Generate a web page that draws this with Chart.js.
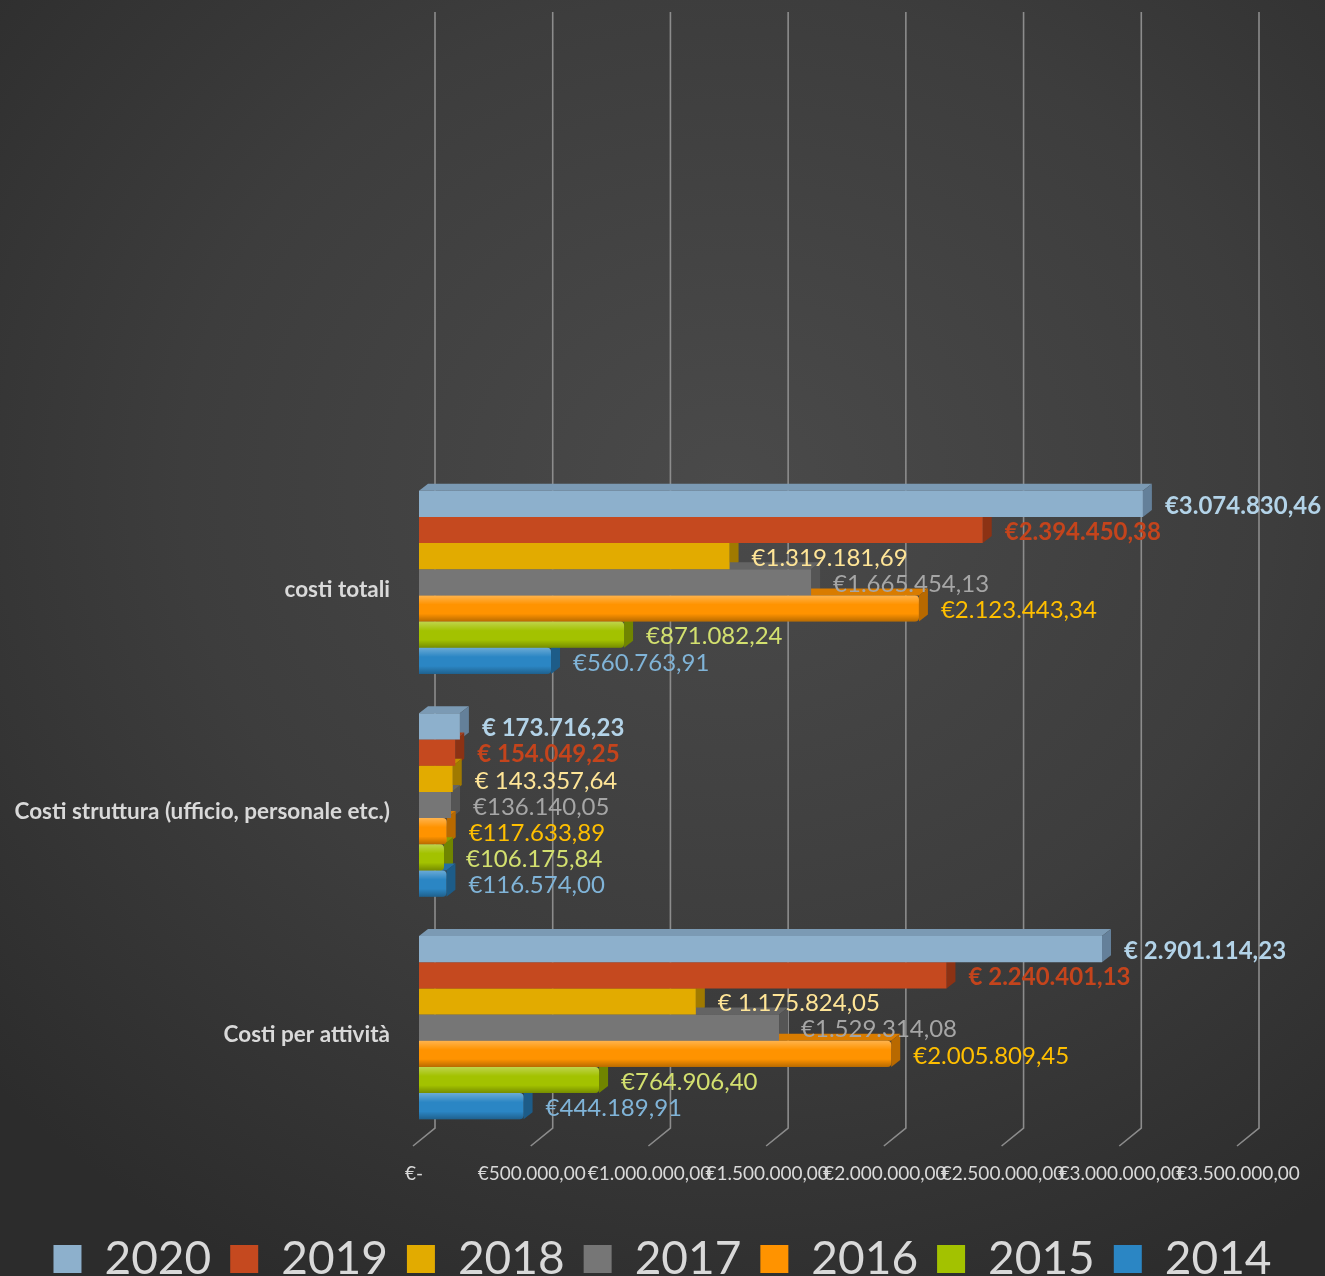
<!DOCTYPE html>
<html>
<head>
<meta charset="utf-8">
<script src="https://cdn.jsdelivr.net/npm/chart.js@4"></script>
<style>
  html, body { margin: 0; padding: 0; }
  #wrap {
    width: 1325px; height: 1276px;
    background: radial-gradient(ellipse 75% 70% at 55% 38%, #4a4a4a 0%, #3d3d3d 55%, #2c2c2c 100%);
  }
</style>
</head>
<body>
<div id="wrap"><canvas id="costChart" width="1325" height="1276"></canvas></div>
<script>
const categories = ['costi totali', 'Costi struttura (ufficio, personale etc.)', 'Costi per attività'];
const years = ['2020', '2019', '2018', '2017', '2016', '2015', '2014'];

const v2020 = [3074830.46, 173716.23, 2901114.23];
const v2019 = [2394450.38, 154049.25, 2240401.13];
const v2018 = [1319181.69, 143357.64, 1175824.05];
const v2017 = [1665454.13, 136140.05, 1529314.08];
const v2016 = [2123443.34, 117633.89, 2005809.45];
const v2015 = [871082.24, 106175.84, 764906.40];
const v2014 = [560763.91, 116574.00, 444189.91];

const xTicks = [0, 500000, 1000000, 1500000, 2000000, 2500000, 3000000, 3500000];

// colours: bar front, top face, side face, value label
const barColors   = ['#8db0cc', '#c5491f', '#e2ab00', '#767676', '#ff9300', '#a3c200', '#2b86c4'];
const topColors   = ['#7b9ab4', '#a83d19', '#c09100', '#646464', '#d97c00', '#879f00', '#246fa3'];
const sideColors  = ['#64809a', '#8c3214', '#a07a00', '#555555', '#b86900', '#708500', '#1d5c88'];
const labelColors = ['#b3d3e8', '#c4441c', '#ffe597', '#a6a6a6', '#ffbf00', '#d3e06f', '#80b4d8'];
const bevel = [false, false, false, false, true, true, true];

const FONT = 'Lato, "Open Sans", sans-serif';
const DX = 9, DY = 7;
// plot runs to the canvas edge; the last tick (3.5M) sits 82px before it
const X_MAX = 3500000 * (1325 - 419) / (1243 - 419);

function euro(v) {
    const parts = v.toFixed(2).split('.');
    return parts[0].replace(/\B(?=(\d{3})+(?!\d))/g, '.') + ',' + parts[1];
}

const allValues = [v2020, v2019, v2018, v2017, v2016, v2015, v2014];

// back-wall gridlines + floor diagonals, then 3d faces
const grid3d = {
    id: 'grid3d',
    beforeDatasetsDraw(chart) {
        const { ctx, chartArea, scales } = chart;
        ctx.save();
        ctx.strokeStyle = '#8c8c8c';
        ctx.lineWidth = 1.6;
        xTicks.forEach(v => {
            const px = scales.x.getPixelForValue(v);
            ctx.beginPath();
            ctx.moveTo(px + 16, 12);
            ctx.lineTo(px + 16, chartArea.bottom - 11);
            ctx.lineTo(px - 6, chartArea.bottom + 7);
            ctx.stroke();
        });
        chart.data.datasets.forEach((ds, i) => {
            const meta = chart.getDatasetMeta(i);
            meta.data.forEach(el => {
                const p = el.getProps(['x', 'y', 'base', 'height'], true);
                const top = p.y - p.height / 2, bottom = p.y + p.height / 2;
                ctx.fillStyle = topColors[i];
                ctx.beginPath();
                ctx.moveTo(p.base, top);
                ctx.lineTo(p.base + DX, top - DY);
                ctx.lineTo(p.x + DX, top - DY);
                ctx.lineTo(p.x, top);
                ctx.closePath();
                ctx.fill();
                ctx.fillStyle = sideColors[i];
                ctx.beginPath();
                ctx.moveTo(p.x, top);
                ctx.lineTo(p.x + DX, top - DY);
                ctx.lineTo(p.x + DX, bottom - DY);
                ctx.lineTo(p.x, bottom);
                ctx.closePath();
                ctx.fill();
            });
        });
        ctx.restore();
    },
    afterDatasetsDraw(chart) {
        const { ctx } = chart;
        ctx.save();
        // bevel shading on 2016/2015/2014
        chart.data.datasets.forEach((ds, i) => {
            if (!bevel[i]) return;
            chart.getDatasetMeta(i).data.forEach(el => {
                const p = el.getProps(['x', 'y', 'base', 'height'], true);
                const top = p.y - p.height / 2;
                const g = ctx.createLinearGradient(0, top, 0, top + p.height);
                g.addColorStop(0, 'rgba(255,255,255,0.30)');
                g.addColorStop(0.35, 'rgba(255,255,255,0)');
                g.addColorStop(0.7, 'rgba(0,0,0,0)');
                g.addColorStop(1, 'rgba(0,0,0,0.28)');
                ctx.fillStyle = g;
                ctx.beginPath();
                ctx.roundRect(p.base, top, p.x - p.base, p.height, [0, 4, 4, 0]);
                ctx.fill();
            });
        });
        // value labels
        ctx.textBaseline = 'middle';
        ctx.textAlign = 'left';
        chart.data.datasets.forEach((ds, i) => {
            chart.getDatasetMeta(i).data.forEach((el, j) => {
                const p = el.getProps(['x', 'y'], true);
                const spaced = i <= 2 && j > 0;
                const txt = '€' + (spaced ? ' ' : '') + euro(ds.data[j]);
                ctx.font = (i <= 1 ? 'bold ' : '') + '24px ' + FONT;
                ctx.fillStyle = labelColors[i];
                ctx.fillText(txt, p.x + DX + 13, p.y + 2);
            });
        });
        ctx.restore();
    }
};

new Chart('costChart', {
    type: 'bar',
    data: {
        labels: categories,
        datasets: years.map((y, i) => ({
            label: y,
            data: allValues[i],
            backgroundColor: barColors[i],
            borderWidth: 0,
            borderRadius: bevel[i] ? 4 : 0,
            categoryPercentage: 0.823,
            barPercentage: 1.0
        }))
    },
    options: {
        indexAxis: 'y',
        responsive: false,
        animation: false,
        layout: {
            padding: { top: 471, left: 0, right: 0, bottom: -16 }
        },
        plugins: {
            legend: {
                position: 'bottom',
                labels: {
                    color: '#d9d9d9',
                    font: { family: FONT, size: 46 },
                    boxWidth: 28,
                    boxHeight: 28,
                    padding: 19
                }
            },
            tooltip: { enabled: false }
        },
        scales: {
            x: {
                min: 0,
                max: X_MAX,
                grid: { display: false },
                border: { display: false },
                afterFit(scale) { scale.height = 78; },
                afterBuildTicks(scale) { scale.ticks = xTicks.map(v => ({ value: v })); },
                ticks: {
                    color: '#d9d9d9',
                    font: { family: FONT, size: 19 },
                    padding: 15,
                    labelOffset: -5,
                    maxRotation: 0,
                    autoSkip: false,
                    callback: v => v === 0 ? '€-' : '€' + euro(v)
                }
            },
            y: {
                grid: { display: false },
                border: { display: false },
                afterFit(scale) { scale.width = 419; },
                ticks: {
                    color: '#d9d9d9',
                    font: { family: FONT, size: 22.5, weight: 'bold' },
                    padding: 21,
                    labelOffset: 7
                }
            }
        }
    },
    plugins: [grid3d]
});
</script>
</body>
</html>
